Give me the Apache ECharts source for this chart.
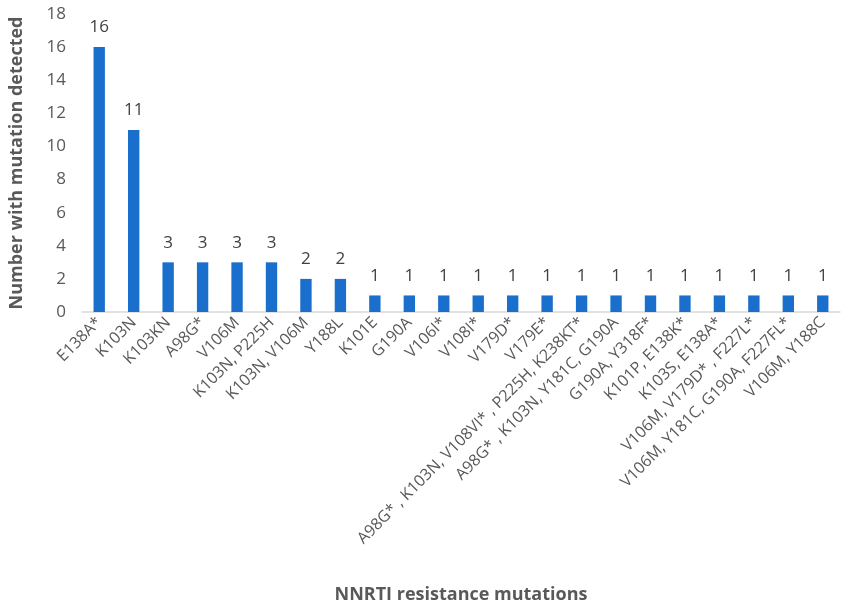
<!DOCTYPE html>
<html><head><meta charset="utf-8">
<script src="https://cdn.jsdelivr.net/npm/echarts@6/dist/echarts.min.js"></script>
<style>html,body{margin:0;padding:0;background:#fff}#c{width:848px;height:609px}</style>
</head><body><div id="c"></div>
<script>
const categories = ["E138A*","K103N","K103KN","A98G*","V106M","K103N, P225H","K103N, V106M","Y188L","K101E","G190A","V106I*","V108I*","V179D*","V179E*","A98G* , K103N, V108VI* , P225H, K238KT*","A98G* , K103N, Y181C, G190A","G190A, Y318F*","K101P, E138K*","K103S, E138A*","V106M, V179D* , F227L*","V106M, Y181C, G190A, F227FL*","V106M, Y188C"];
const counts = [16,11,3,3,3,3,2,2,1,1,1,1,1,1,1,1,1,1,1,1,1,1];
const yTicks = [0,2,4,6,8,10,12,14,16,18];
const xTitle = "NNRTI resistance mutations";
const yTitle = "Number with mutation detected";

const chart = echarts.init(document.getElementById('c'));
const FONT = "Open Sans";
chart.setOption({
  animation:false,
  grid:{left:76,right:8,top:14,bottom:288,containLabel:false},
  xAxis:{type:'category',data:categories,
    name:xTitle,nameLocation:'middle',nameGap:274,
    nameTextStyle:{fontFamily:FONT,fontWeight:'bold',fontSize:18,color:'#595959'},
    axisLine:{lineStyle:{color:'#d9d9d9',width:1.5}},axisTick:{show:false},
    axisLabel:{rotate:45,interval:0,fontFamily:FONT,fontSize:16,color:'#595959',margin:8}},
  yAxis:{type:'value',min:yTicks[0],max:yTicks[yTicks.length-1],interval:2,
    name:yTitle,nameLocation:'middle',nameGap:56,
    nameTextStyle:{fontFamily:FONT,fontWeight:'bold',fontSize:18,color:'#595959'},
    axisLine:{show:false},axisTick:{show:false},splitLine:{show:false},
    axisLabel:{fontFamily:FONT,fontSize:17,color:'#595959',margin:16}},
  series:[{type:'bar',data:counts,barWidth:'33%',
    itemStyle:{color:'#1b6fcc'},
    label:{show:true,position:'top',fontFamily:FONT,fontSize:17,color:'#404040',distance:11}}]
});
</script></body></html>
